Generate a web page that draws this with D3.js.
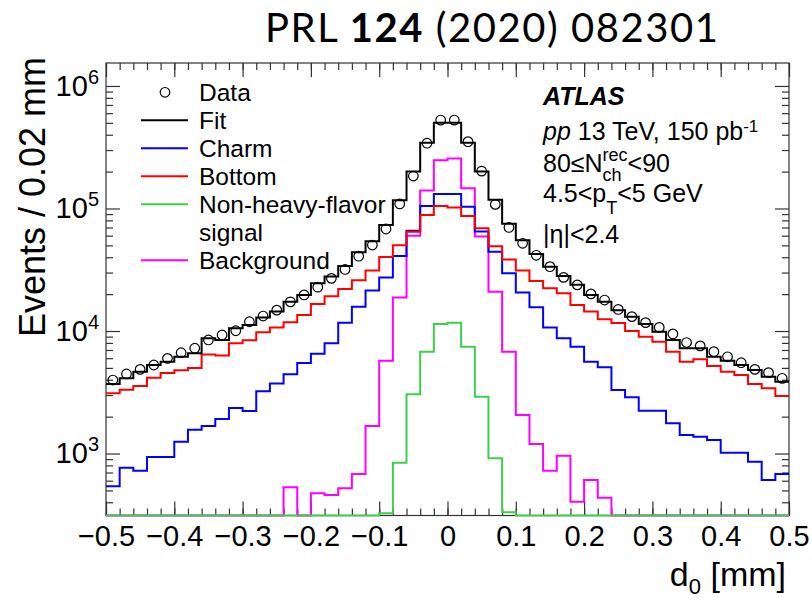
<!DOCTYPE html>
<html>
<head>
<meta charset="utf-8">
<script src="https://cdn.jsdelivr.net/npm/d3@7"></script>
<style>
  body { margin: 0; background: #fff; }
  svg { display: block; }
  text { white-space: pre; }
</style>
</head>
<body>
<svg id="chart"></svg>
<script>
var width = 812;
var height = 598;
var frame = {left: 106, right: 789, top: 63, bottom: 515.5};

// d0 histogram: 50 bins of 0.02 mm from -0.5 to 0.5
var binStart = -0.5;
var binWidth = 0.02;

var dataCounts = [3980, 4460, 4860, 5280, 5980, 6650, 7230, 8450, 9280, 10050,
    11900, 13250, 14800, 17300, 19700, 22800, 26900, 31800, 40800, 50300,
    68000, 109000, 184000, 341000, 527000, 527000, 351000, 202000, 108000, 70000,
    52000, 41500, 33500, 27400, 23800, 20100, 17900, 15000, 13100, 11700,
    10700, 9470, 8050, 7560, 6780, 6160, 5510, 4860, 4570, 4110];

var fitCounts = [3690, 4110, 4660, 5280, 5610, 6160, 6570, 8720, 8450, 10520,
    11200, 12900, 14400, 17300, 19700, 24500, 27800, 33900, 44000, 54000,
    73300, 117000, 200000, 344000, 501000, 501000, 344000, 200000, 118000, 75000,
    55000, 42500, 33500, 28100, 23800, 19700, 17300, 14800, 13100, 11400,
    9870, 8450, 7230, 7230, 6160, 5730, 5280, 4810, 4240, 3860];

var charmCounts = [540, 766, 724, 936, 936, 1248, 1562, 1675, 1913, 2350,
    2222, 3220, 3730, 4430, 5480, 6510, 7960, 11700, 15750, 21450,
    27400, 41000, 65900, 105000, 131000, 131000, 103500, 65000, 44300, 29600,
    20600, 15600, 10700, 8720, 7450, 5610, 5060, 3300, 2880, 2230,
    2230, 1765, 1416, 1371, 1289, 1015, 1015, 857, 608, 681];

var bottomCounts = [3100, 3320, 3560, 4150, 4540, 4780, 5000, 6430, 6300, 7940,
    8400, 9780, 10700, 11800, 13500, 16600, 19200, 22000, 26000, 31200,
    40200, 50000, 64700, 88500, 105000, 102000, 86900, 68900, 49200, 38300,
    31200, 25600, 22300, 20300, 16300, 14400, 12500, 11600, 10000, 8970,
    8190, 6780, 5610, 5870, 5180, 4660, 4380, 3690, 3410, 2950];

var nonHfCounts = [0, 0, 0, 0, 0, 0, 0, 0, 0, 0,
    0, 0, 0, 0, 0, 0, 0, 0, 0, 0,
    325, 841, 3040, 6780, 11400, 11700, 7450, 2910, 914, 331,
    0, 0, 0, 0, 0, 0, 0, 0, 0, 0,
    0, 0, 0, 0, 0, 0, 0, 0, 0, 0];

var bkgCounts = [0, 0, 0, 0, 0, 0, 0, 0, 0, 0,
    0, 0, 0, 530, 0, 473, 458, 520, 681, 1676,
    5730, 18800, 60000, 140000, 248000, 256000, 146000, 59000, 20900, 6780,
    2060, 1196, 724, 959, 404, 608, 436, 0, 0, 0,
    0, 0, 0, 0, 0, 0, 0, 0, 0, 0];

var xMajor = d3.range(-5, 6).map(d => d / 10);
var xMinor = d3.range(-25, 26).map(d => d / 50);
var yMin = 312, yMax = 1.54e6;
var yMajor = [1e3, 1e4, 1e5, 1e6];
var yMinor = [];
[1e2, 1e3, 1e4, 1e5, 1e6].forEach(function (dec) {
    for (var k = 2; k < 10; k++) if (k * dec > yMin && k * dec < yMax) yMinor.push(k * dec);
});

var font = "'Liberation Sans', Arial, Helvetica, sans-serif";

var svg = d3.select("#chart")
    .attr("width", width)
    .attr("height", height)
    .attr("font-family", font);

var x = d3.scaleLinear().domain([-0.5, 0.5]).range([frame.left, frame.right]);
var y = d3.scaleLog().domain([yMin, yMax]).range([frame.bottom, frame.top]);

// title
var title = svg.append("text")
    .attr("x", 491.5)
    .attr("y", 42)
    .attr("text-anchor", "middle")
    .attr("font-family", "Lato, 'Open Sans', sans-serif")
    .attr("font-size", 40)
    .attr("textLength", 453)
    .attr("lengthAdjust", "spacing");
title.append("tspan").text("PRL ");
title.append("tspan").attr("font-weight", "bold").text("124");
title.append("tspan").text(" (2020) 082301");

// frame
svg.append("rect")
    .attr("x", frame.left).attr("y", frame.top)
    .attr("width", frame.right - frame.left)
    .attr("height", frame.bottom - frame.top)
    .attr("fill", "none")
    .attr("stroke", "#333")
    .attr("stroke-width", 1.2);

// axes (ticks pointing inside the frame)
function styleAxis(g) {
    g.select(".domain").remove();
    g.attr("font-family", font);
    g.selectAll(".tick line").attr("stroke", "#333").attr("stroke-width", 1.2);
    g.selectAll(".tick text").attr("fill", "#000");
}
var xFmt = d => d === 0 ? "0" : d3.format(".1f")(d);

svg.append("g").attr("transform", `translate(0,${frame.bottom})`)
    .call(d3.axisBottom(x).tickValues(xMinor).tickSize(-7).tickFormat(""))
    .call(styleAxis);
svg.append("g").attr("transform", `translate(0,${frame.bottom})`)
    .call(d3.axisBottom(x).tickValues(xMajor).tickSize(-14).tickPadding(10).tickFormat(xFmt))
    .call(styleAxis)
    .attr("font-size", 29);
svg.append("g").attr("transform", `translate(0,${frame.top})`)
    .call(d3.axisTop(x).tickValues(xMinor).tickSize(-7).tickFormat(""))
    .call(styleAxis);
svg.append("g").attr("transform", `translate(0,${frame.top})`)
    .call(d3.axisTop(x).tickValues(xMajor).tickSize(-14).tickFormat(""))
    .call(styleAxis);

svg.append("g").attr("transform", `translate(${frame.left},0)`)
    .call(d3.axisLeft(y).tickValues(yMinor).tickSize(-7).tickFormat(""))
    .call(styleAxis);
svg.append("g").attr("transform", `translate(${frame.left},0)`)
    .call(d3.axisLeft(y).tickValues(yMajor).tickSize(-14).tickPadding(7).tickFormat(""))
    .call(styleAxis)
    .attr("font-size", 29)
    .call(g => g.selectAll(".tick text").each(function (d) {
        var t = d3.select(this);
        t.append("tspan").text("10");
        t.append("tspan").attr("font-size", 20).attr("dy", -12).text(Math.round(Math.log10(d)));
    }));
svg.append("g").attr("transform", `translate(${frame.right},0)`)
    .call(d3.axisRight(y).tickValues(yMinor).tickSize(-7).tickFormat(""))
    .call(styleAxis);
svg.append("g").attr("transform", `translate(${frame.right},0)`)
    .call(d3.axisRight(y).tickValues(yMajor).tickSize(-14).tickFormat(""))
    .call(styleAxis);

// axis titles
svg.append("text")
    .attr("transform", "translate(45,57) rotate(-90)")
    .attr("text-anchor", "end")
    .attr("font-size", 36)
    .text("Events / 0.02 mm");

var xt = svg.append("text")
    .attr("x", 786).attr("y", 586)
    .attr("text-anchor", "end")
    .attr("font-size", 34);
xt.append("tspan").text("d");
xt.append("tspan").attr("font-size", 22).attr("dy", 8).text("0");
xt.append("tspan").attr("dy", -8).text(" [mm]");

// histograms
svg.append("clipPath").attr("id", "plotclip")
    .append("rect")
    .attr("x", frame.left).attr("y", frame.top)
    .attr("width", frame.right - frame.left)
    .attr("height", frame.bottom - frame.top + 1.5);

function steps(vals) {
    var pts = vals.map((v, i) => [binStart + i * binWidth, v]);
    pts.push([binStart + vals.length * binWidth, vals[vals.length - 1]]);
    return d3.line()
        .x(d => x(d[0]))
        .y(d => y(Math.max(d[1], yMin)))
        .curve(d3.curveStepAfter)(pts);
}

var plot = svg.append("g").attr("clip-path", "url(#plotclip)");
var histos = [
    {vals: bkgCounts, color: "#ff00ff"},
    {vals: nonHfCounts, color: "#3fcc4f"},
    {vals: charmCounts, color: "#0000ff"},
    {vals: bottomCounts, color: "#ff0000"},
    {vals: fitCounts, color: "#000000"}
];
plot.selectAll("path.hist")
    .data(histos)
    .join("path")
    .attr("class", "hist")
    .attr("d", d => steps(d.vals))
    .attr("fill", "none")
    .attr("stroke", d => d.color)
    .attr("stroke-width", 2);

plot.selectAll("circle.data")
    .data(dataCounts)
    .join("circle")
    .attr("class", "data")
    .attr("cx", (d, i) => x(binStart + (i + 0.5) * binWidth))
    .attr("cy", d => y(d))
    .attr("r", 4.8)
    .attr("fill", "none")
    .attr("stroke", "#000")
    .attr("stroke-width", 1.2);

// legend
var legend = svg.append("g").attr("font-size", 24.5);
var legendRows = [
    {label: "Data", row: 0, marker: true},
    {label: "Fit", row: 1, color: "#000000"},
    {label: "Charm", row: 2, color: "#0000ff"},
    {label: "Bottom", row: 3, color: "#ff0000"},
    {label: "Non-heavy-flavor", row: 4, color: "#3fcc4f"},
    {label: "signal", row: 5},
    {label: "Background", row: 6, color: "#ff00ff"}
];
legendRows.forEach(function (r) {
    var ly = 92.3 + 28 * r.row;
    if (r.marker) {
        legend.append("circle").attr("cx", 165).attr("cy", ly).attr("r", 4.8)
            .attr("fill", "none").attr("stroke", "#000").attr("stroke-width", 1.2);
    } else if (r.color) {
        legend.append("line").attr("x1", 141).attr("x2", 188).attr("y1", ly).attr("y2", ly)
            .attr("stroke", r.color).attr("stroke-width", 2);
    }
    legend.append("text").attr("x", 199).attr("y", ly + 8.8).text(r.label);
});

// ATLAS label block
function richText(x0, y0, parts) {
    var cx = x0;
    parts.forEach(function (p) {
        var items = Array.isArray(p) ? p : [p];
        var adv = 0;
        items.forEach(function (q) {
            var t = svg.append("text")
                .attr("x", cx).attr("y", y0 + (q.dy || 0))
                .attr("font-size", q.size || 25)
                .attr("font-style", q.italic ? "italic" : null)
                .attr("font-weight", q.bold ? "bold" : null)
                .text(q.t);
            adv = Math.max(adv, t.node().getComputedTextLength());
        });
        cx += adv;
    });
}
richText(543, 105, [{t: "ATLAS", bold: true, italic: true}]);
richText(543, 140, [{t: "pp", italic: true}, {t: "\u00a013 TeV, 150 pb"}, {t: "-1", size: 17, dy: -8}]);
richText(543, 172, [{t: "80≤N"}, [{t: "rec", size: 18, dy: -11}, {t: "ch", size: 18, dy: 9}], {t: "<90"}]);
richText(543, 202, [{t: "4.5<p"}, {t: "T", size: 18, dy: 12}, {t: "<5 GeV"}]);
richText(543, 243, [{t: "|η|<2.4"}]);
</script>
</body>
</html>
